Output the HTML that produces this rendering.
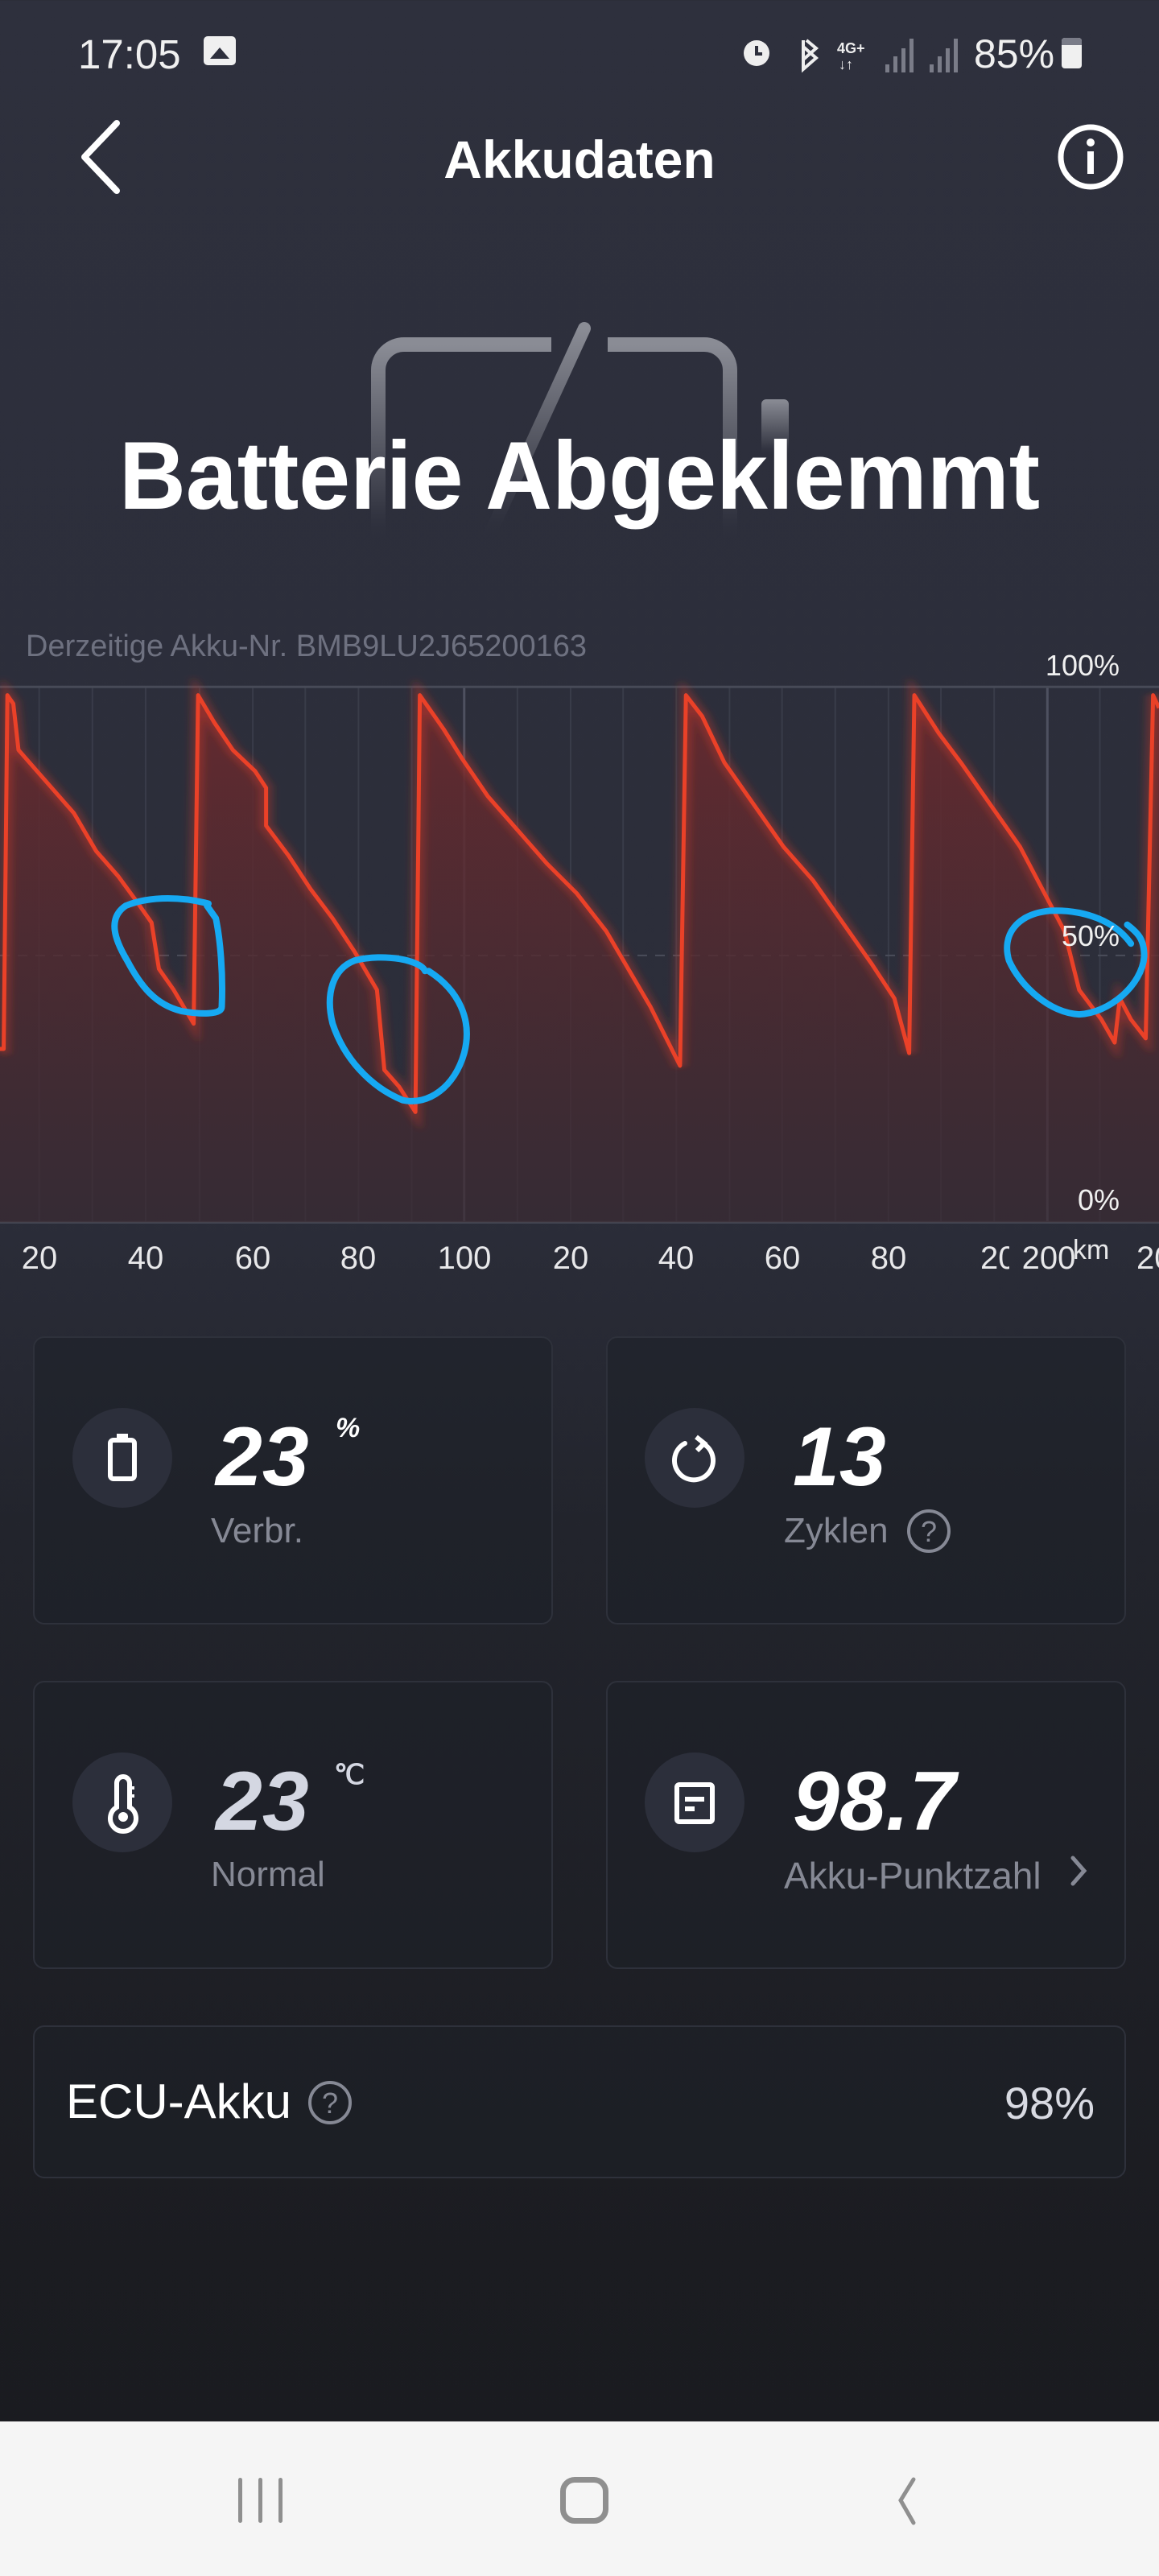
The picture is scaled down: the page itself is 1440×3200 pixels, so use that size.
<!DOCTYPE html>
<html><head><meta charset="utf-8"><style>
*{margin:0;padding:0;box-sizing:border-box}
body{width:1440px;height:3200px;overflow:hidden;font-family:"Liberation Sans",sans-serif;background:linear-gradient(#2e303d 0px,#2b2d39 1500px,#22242c 1900px,#1b1c21 2800px,#1a1b20 3008px);position:relative;color:#fff}
.a{position:absolute}
.card{position:absolute;border:2px solid #2e313b;border-radius:14px;background:rgba(30,32,40,0.55)}
.ic{position:absolute;width:124px;height:124px;border-radius:50%;background:#2c2f3b}
.val{position:absolute;font-weight:bold;font-style:italic;font-size:104px;line-height:1;color:#fff}
.lab{position:absolute;font-size:44px;color:#868995;line-height:1}
.xl{position:absolute;top:1541px;font-size:40px;color:#e8e8ea;transform:translateX(-50%)}
</style></head><body>
<!-- status bar -->
<div class="a" style="left:97px;top:38px;font-size:51px;color:#f0f0f0">17:05</div>
<div class="a" style="left:253px;top:45px;width:40px;height:36px;border-radius:5px;background:#f0f0f0"><div class="a" style="left:8px;top:14px;width:0;height:0;border-left:12px solid transparent;border-right:12px solid transparent;border-bottom:14px solid #2e303d"></div></div>
<svg class="a" style="left:910px;top:40px" width="320" height="52" viewBox="0 0 320 52">
<circle cx="30" cy="26" r="16" fill="#eee"/><path d="M30 17v10h7" stroke="#2e303d" stroke-width="4" fill="none"/>
<path d="M92 10l12 10-16 14M88 10v36l16-14-16-14" stroke="#eee" stroke-width="4" fill="none"/>
<text x="130" y="26" font-size="18" font-weight="bold" fill="#eee" font-family="Liberation Sans">4G+</text><text x="132" y="46" font-size="18" fill="#eee" font-family="Liberation Sans">↓↑</text>
<g fill="#7a7c88"><rect x="190" y="40" width="5" height="10"/><rect x="200" y="30" width="5" height="20"/><rect x="210" y="20" width="5" height="30"/><rect x="220" y="8" width="5" height="42"/>
<rect x="245" y="40" width="5" height="10"/><rect x="255" y="30" width="5" height="20"/><rect x="265" y="20" width="5" height="30"/><rect x="275" y="8" width="5" height="42"/></g></svg>
<div class="a" style="left:1210px;top:38px;font-size:50px;color:#f0f0f0">85%</div>
<div class="a" style="left:1319px;top:47px;width:25px;height:38px;border-radius:4px;background:#f0f0f0"></div>
<div class="a" style="left:1319px;top:47px;width:25px;height:9px;border-radius:4px 4px 0 0;background:#7a7c88"></div>
<!-- nav -->
<svg class="a" style="left:90px;top:145px" width="70" height="100"><path d="M55 8L15 50l40 42" stroke="#fff" stroke-width="8" fill="none" stroke-linecap="round" stroke-linejoin="round"/></svg>
<div class="a" style="left:0;width:1440px;top:160px;text-align:center;font-size:66px;font-weight:bold">Akkudaten</div>
<svg class="a" style="left:1310px;top:150px" width="90" height="90"><circle cx="45" cy="45" r="37" stroke="#fff" stroke-width="7" fill="none"/><rect x="41" y="38" width="8" height="28" fill="#fff"/><circle cx="45" cy="27" r="5" fill="#fff"/></svg>
<!-- battery icon -->
<svg class="a" style="left:440px;top:390px" width="560" height="280">
<defs><linearGradient id="bg" x1="0" y1="0" x2="0" y2="1"><stop offset="0" stop-color="#8a8c95"/><stop offset="0.8" stop-color="#3a3c48"/><stop offset="1" stop-color="#2e303d" stop-opacity="0"/></linearGradient></defs>
<path d="M245 38H62a32 32 0 0 0-32 32v210" stroke="url(#bg)" stroke-width="18" fill="none"/>
<path d="M315 38h120a32 32 0 0 1 32 32v210" stroke="url(#bg)" stroke-width="18" fill="none"/>
<rect x="506" y="106" width="34" height="70" rx="6" fill="url(#bg)"/>
<path d="M286 18L168 275" stroke="url(#bg)" stroke-width="16" stroke-linecap="round"/>
</svg>
<svg class="a" style="left:0;top:520px" width="1440" height="140"><text x="720" y="112" text-anchor="middle" font-family="Liberation Sans" font-weight="bold" font-size="120" fill="#fff" textLength="1144" lengthAdjust="spacingAndGlyphs">Batterie Abgeklemmt</text></svg>
<!-- chart -->
<div class="a" style="left:32px;top:782px;font-size:38px;color:#6e7180">Derzeitige Akku-Nr. BMB9LU2J65200163</div>
<svg class="a" style="left:0;top:780px" width="1440" height="820" viewBox="0 0 1568 1568" preserveAspectRatio="none">
<defs><linearGradient id="fg" x1="0" y1="0" x2="0" y2="1"><stop offset="0" stop-color="#6a2a2e" stop-opacity="0.9"/><stop offset="1" stop-color="#3a2a32" stop-opacity="0.7"/></linearGradient>
<filter id="gl" x="-5%" y="-5%" width="110%" height="110%"><feGaussianBlur stdDeviation="6"/></filter></defs>
<g stroke="#393c49" stroke-width="2">
<path vector-effect="non-scaling-stroke" d="M53 140V1412M125 140V1412M197 140V1412M270 140V1412M342 140V1412M413 140V1412M485 140V1412M557 140V1412M700 140V1412M772 140V1412M843 140V1412M915 140V1412M987 140V1412M1058 140V1412M1130 140V1412M1202 140V1412M1273 140V1412M1345 140V1412M1488 140V1412"/></g>
<path vector-effect="non-scaling-stroke" d="M628 140V1412M1417 140V1412" stroke="#4e5160" stroke-width="3"/>
<path vector-effect="non-scaling-stroke" d="M0 140H1568M0 1412H1568" stroke="#474a57" stroke-width="3"/>
<path vector-effect="non-scaling-stroke" d="M0 778H1568" stroke="#4a4d5a" stroke-width="2" stroke-dasharray="12 10"/>
<path d="M0 1412L0 1000L5 1000L10 160L18 180L25 290L40 320L70 380L100 440L130 530L160 590L185 650L205 700L215 810L235 860L262 940L268 160L290 225L315 290L345 340L360 380L360 470L390 540L420 620L450 690L480 770L510 860L520 1050L540 1090L562 1150L568 160L600 240L625 310L660 400L700 480L740 560L780 630L820 720L850 810L880 900L920 1040L928 160L950 210L980 320L1020 420L1060 520L1100 600L1140 700L1180 800L1210 880L1230 1010L1237 160L1270 250L1300 320L1340 420L1380 520L1410 620L1440 720L1460 860L1490 930L1508 985L1515 880L1530 930L1550 975L1560 160L1568 190L1568 1412Z" fill="url(#fg)"/>
<path d="M0 1000L5 1000L10 160L18 180L25 290L40 320L70 380L100 440L130 530L160 590L185 650L205 700L215 810L235 860L262 940L268 160L290 225L315 290L345 340L360 380L360 470L390 540L420 620L450 690L480 770L510 860L520 1050L540 1090L562 1150L568 160L600 240L625 310L660 400L700 480L740 560L780 630L820 720L850 810L880 900L920 1040L928 160L950 210L980 320L1020 420L1060 520L1100 600L1140 700L1180 800L1210 880L1230 1010L1237 160L1270 250L1300 320L1340 420L1380 520L1410 620L1440 720L1460 860L1490 930L1508 985L1515 880L1530 930L1550 975L1560 160L1568 190" fill="none" stroke="#e8402a" stroke-width="14" stroke-opacity="0.35" vector-effect="non-scaling-stroke" filter="url(#gl)"/>
<path d="M0 1000L5 1000L10 160L18 180L25 290L40 320L70 380L100 440L130 530L160 590L185 650L205 700L215 810L235 860L262 940L268 160L290 225L315 290L345 340L360 380L360 470L390 540L420 620L450 690L480 770L510 860L520 1050L540 1090L562 1150L568 160L600 240L625 310L660 400L700 480L740 560L780 630L820 720L850 810L880 900L920 1040L928 160L950 210L980 320L1020 420L1060 520L1100 600L1140 700L1180 800L1210 880L1230 1010L1237 160L1270 250L1300 320L1340 420L1380 520L1410 620L1440 720L1460 860L1490 930L1508 985L1515 880L1530 930L1550 975L1560 160L1568 190" fill="none" stroke="#ea4128" stroke-width="5" vector-effect="non-scaling-stroke" stroke-linejoin="round"/>
<g fill="none" stroke="#16a9f2" stroke-width="8" stroke-linecap="round" stroke-linejoin="round">
<path vector-effect="non-scaling-stroke" d="M282 655C250 640 205 635 170 660C145 690 155 740 172 790C190 850 210 895 245 910C270 918 300 920 300 900C302 820 298 740 292 690L280 660"/>
<path vector-effect="non-scaling-stroke" d="M575 815C570 790 520 772 480 790C450 810 440 870 450 940C465 1020 500 1090 545 1122C580 1135 615 1090 628 1010C640 930 620 860 580 815"/>
<path vector-effect="non-scaling-stroke" d="M1530 750C1510 700 1470 668 1420 672C1375 680 1355 730 1365 790C1380 850 1420 915 1460 918C1500 915 1545 850 1548 780C1548 740 1540 725 1525 705"/>
</g>
</svg>
<div class="a" style="right:49px;top:806px;font-size:36px;color:#f0f0f0">100%</div>
<div class="a" style="right:49px;top:1142px;font-size:36px;color:#f0f0f0">50%</div>
<div class="a" style="right:49px;top:1470px;font-size:36px;color:#f0f0f0">0%</div>
<div class="xl" style="left:49px">20</div><div class="xl" style="left:181px">40</div><div class="xl" style="left:314px">60</div><div class="xl" style="left:445px">80</div><div class="xl" style="left:577px">100</div><div class="xl" style="left:709px">20</div><div class="xl" style="left:840px">40</div><div class="xl" style="left:972px">60</div><div class="xl" style="left:1104px">80</div><div class="xl" style="left:1218px;width:36px;overflow:hidden;transform:none">20</div><div class="xl" style="left:1303px">200</div>
<div class="a" style="left:1333px;top:1534px;font-size:34px;color:#e8e8ea">km</div>
<div class="a" style="left:1412px;top:1541px;font-size:40px;color:#e8e8ea">20</div>
<!-- cards -->
<div class="card" style="left:41px;top:1660px;width:646px;height:358px"></div>
<div class="card" style="left:753px;top:1660px;width:646px;height:358px"></div>
<div class="card" style="left:41px;top:2088px;width:646px;height:358px"></div>
<div class="card" style="left:753px;top:2088px;width:646px;height:358px"></div>
<div class="card" style="left:41px;top:2516px;width:1358px;height:190px"></div>
<div class="ic" style="left:90px;top:1749px"><svg width="124" height="124"><rect x="47" y="40" width="30" height="48" rx="4" stroke="#fff" stroke-width="6" fill="none"/><rect x="55" y="32" width="14" height="6" fill="#fff"/></svg></div>
<div class="ic" style="left:801px;top:1749px"><svg width="124" height="124"><path d="M72 44A24 24 0 1 1 50 44" stroke="#fff" stroke-width="6" fill="none" stroke-linecap="round"/><path d="M64 36l10 8-9 9" stroke="#fff" stroke-width="6" fill="none"/></svg></div>
<div class="ic" style="left:90px;top:2177px"><svg width="124" height="124"><path d="M55 68V38a8 8 0 0 1 16 0v30a16 16 0 1 1-16 0z" stroke="#fff" stroke-width="6" fill="none"/><circle cx="63" cy="80" r="6" fill="#fff"/><path d="M71 44h6M71 54h6" stroke="#fff" stroke-width="4"/></svg></div>
<div class="ic" style="left:801px;top:2177px"><svg width="124" height="124"><rect x="40" y="40" width="44" height="46" rx="3" stroke="#fff" stroke-width="6" fill="none"/><path d="M50 58h24M50 70h12" stroke="#fff" stroke-width="6"/></svg></div>
<div class="val" style="left:268px;top:1758px">23</div><div class="a" style="left:417px;top:1755px;font-size:34px;font-style:italic;font-weight:bold">%</div>
<div class="lab" style="left:262px;top:1880px">Verbr.</div>
<div class="val" style="left:985px;top:1758px">13</div>
<div class="lab" style="left:974px;top:1880px">Zyklen</div>
<svg class="a" style="left:1124px;top:1872px" width="60" height="60"><circle cx="30" cy="30" r="25" stroke="#868995" stroke-width="4" fill="none"/><text x="30" y="43" text-anchor="middle" font-size="36" fill="#868995" font-family="Liberation Sans">?</text></svg>
<div class="val" style="left:268px;top:2186px;color:#d4d7e2">23</div><div class="a" style="left:415px;top:2185px;font-size:34px;font-weight:bold;color:#d4d7e2">℃</div>
<div class="lab" style="left:262px;top:2307px">Normal</div>
<div class="val" style="left:985px;top:2186px">98.7</div>
<div class="lab" style="left:974px;top:2307px;font-size:46px">Akku-Punktzahl</div>
<svg class="a" style="left:1325px;top:2302px" width="30" height="44"><path d="M8 6l14 16-14 16" stroke="#868995" stroke-width="5" fill="none" stroke-linecap="round"/></svg>
<div class="a" style="left:82px;top:2576px;font-size:60px;color:#fff">ECU-Akku</div>
<svg class="a" style="left:380px;top:2582px" width="60" height="60"><circle cx="30" cy="30" r="25" stroke="#868995" stroke-width="4" fill="none"/><text x="30" y="43" text-anchor="middle" font-size="36" fill="#868995" font-family="Liberation Sans">?</text></svg>
<div class="a" style="right:80px;top:2580px;font-size:56px;color:#d8dae2">98%</div>
<!-- android nav -->
<div class="a" style="left:0;top:3008px;width:1440px;height:192px;background:#f5f5f5"></div>
<div class="a" style="left:296px;top:3078px;width:5px;height:56px;background:#8f8f8f;border-radius:3px"></div>
<div class="a" style="left:321px;top:3078px;width:5px;height:56px;background:#8f8f8f;border-radius:3px"></div>
<div class="a" style="left:346px;top:3078px;width:5px;height:56px;background:#8f8f8f;border-radius:3px"></div>
<div class="a" style="left:696px;top:3077px;width:60px;height:58px;border:7px solid #8f8f8f;border-radius:18px"></div>
<svg class="a" style="left:1105px;top:3076px" width="40" height="62"><path d="M30 4L14 30l16 28" stroke="#8f8f8f" stroke-width="5" fill="none" stroke-linecap="round"/></svg>
</body></html>
